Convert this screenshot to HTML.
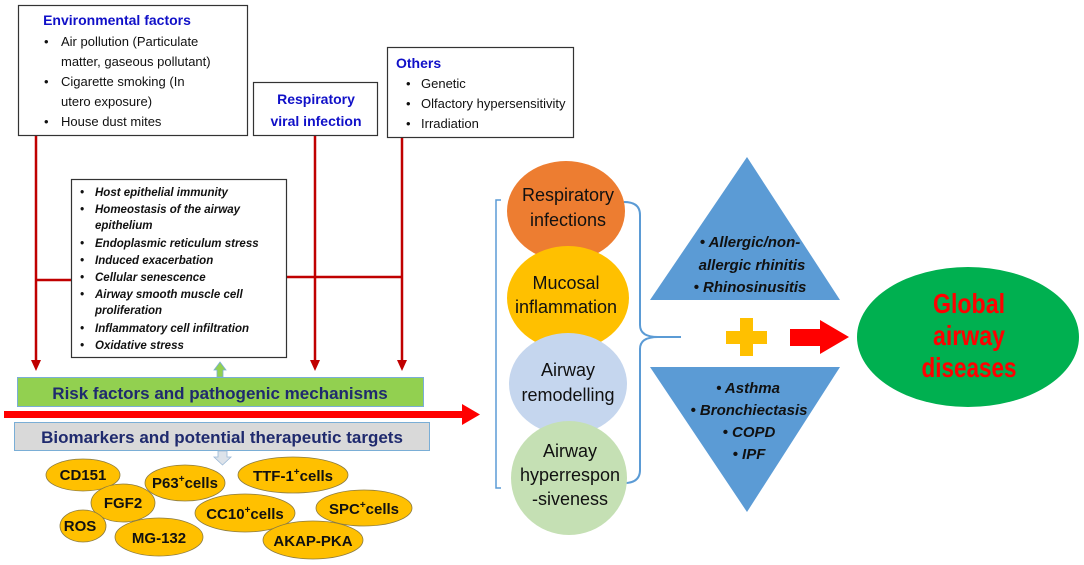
<!DOCTYPE html>
<html><head><meta charset="utf-8"><style>
html,body{margin:0;padding:0;background:#fff;}
svg{display:block;font-family:"Liberation Sans",sans-serif;}
</style></head><body>
<svg width="1084" height="565" viewBox="0 0 1084 565" xmlns="http://www.w3.org/2000/svg">
<!-- top boxes -->
<rect x="18.5" y="5.5" width="229" height="130" fill="#fff" stroke="#333" stroke-width="1.2"/>
<text x="117" y="25" font-size="14" font-weight="bold" fill="#1010c8" text-anchor="middle">Environmental  factors</text>
<g font-size="13" fill="#111">
<text x="44" y="46">•</text><text x="61" y="46">Air pollution (Particulate</text>
<text x="61" y="66">matter, gaseous pollutant)</text>
<text x="44" y="86">•</text><text x="61" y="86">Cigarette smoking (In</text>
<text x="61" y="106">utero exposure)</text>
<text x="44" y="126">•</text><text x="61" y="126">House dust mites</text>
</g>
<rect x="253.5" y="82.5" width="124" height="53" fill="#fff" stroke="#333" stroke-width="1.2"/>
<text x="316" y="104" font-size="14" font-weight="bold" fill="#1010c8" text-anchor="middle">Respiratory</text>
<text x="316" y="126" font-size="14" font-weight="bold" fill="#1010c8" text-anchor="middle">viral infection</text>
<rect x="387.5" y="47.5" width="186" height="90" fill="#fff" stroke="#333" stroke-width="1.2"/>
<text x="396" y="68" font-size="14" font-weight="bold" fill="#1010c8">Others</text>
<g font-size="13" fill="#111">
<text x="406" y="88">•</text><text x="421" y="88">Genetic</text>
<text x="406" y="108">•</text><text x="421" y="108">Olfactory hypersensitivity</text>
<text x="406" y="128">•</text><text x="421" y="128">Irradiation</text>
</g>
<!-- red vertical lines -->
<g stroke="#c00000" stroke-width="2.5" fill="none">
<line x1="36" y1="136" x2="36" y2="362"/>
<line x1="315" y1="136" x2="315" y2="362"/>
<line x1="402" y1="138" x2="402" y2="362"/>
<line x1="36" y1="280" x2="71" y2="280"/>
<line x1="287" y1="277" x2="402" y2="277"/>
</g>
<g fill="#c00000">
<polygon points="31,360 41,360 36,371"/>
<polygon points="310,360 320,360 315,371"/>
<polygon points="397,360 407,360 402,371"/>
</g>
<!-- mechanisms box -->
<rect x="71.5" y="179.5" width="215" height="178" fill="#fff" stroke="#333" stroke-width="1.2"/>
<g font-size="11.5" font-weight="bold" font-style="italic" fill="#111">
<text x="80" y="196">•</text><text x="95" y="196">Host epithelial immunity</text>
<text x="80" y="213">•</text><text x="95" y="213">Homeostasis of the airway</text>
<text x="95" y="229">epithelium</text>
<text x="80" y="247">•</text><text x="95" y="247">Endoplasmic  reticulum stress</text>
<text x="80" y="264">•</text><text x="95" y="264">Induced exacerbation</text>
<text x="80" y="281">•</text><text x="95" y="281">Cellular senescence</text>
<text x="80" y="298">•</text><text x="95" y="298">Airway smooth muscle cell</text>
<text x="95" y="314">proliferation</text>
<text x="80" y="332">•</text><text x="95" y="332">Inflammatory cell infiltration</text>
<text x="80" y="349">•</text><text x="95" y="349">Oxidative stress</text>
</g>
<!-- small green up arrow -->
<polygon points="220,362 226,370 223,370 223,377 217,377 217,370 214,370" fill="#92d050" stroke="#7aaed6" stroke-width="0.8"/>
<!-- green bar -->
<rect x="17.5" y="377.5" width="406" height="29" fill="#92d050" stroke="#7aaed6" stroke-width="1"/>
<text x="220" y="399" font-size="17" font-weight="bold" fill="#1f2a6e" text-anchor="middle">Risk factors and pathogenic mechanisms</text>
<!-- big red arrow -->
<rect x="4" y="411" width="462" height="7" fill="#ff0000"/>
<polygon points="462,404 480,414.5 462,425" fill="#ff0000"/>
<!-- grey bar -->
<rect x="14.5" y="422.5" width="415" height="28" fill="#d9d9d9" stroke="#7aaed6" stroke-width="1"/>
<text x="222" y="443" font-size="17" font-weight="bold" fill="#1f2a6e" text-anchor="middle">Biomarkers and potential therapeutic targets</text>
<polygon points="218,451 227,451 227,457 231,457 222.5,465 214,457 218,457" fill="#dde3ea" stroke="#9ab8d6" stroke-width="0.8"/>
<!-- ovals -->
<g fill="#ffc000" stroke="#8a7a40" stroke-width="0.8">
<ellipse cx="83" cy="475" rx="37" ry="16"/>
<ellipse cx="123" cy="503" rx="32" ry="19"/>
<ellipse cx="83" cy="526" rx="23" ry="16"/>
<ellipse cx="185" cy="483" rx="40" ry="18"/>
<ellipse cx="159" cy="537" rx="44" ry="19"/>
<ellipse cx="293" cy="475" rx="55" ry="18"/>
<ellipse cx="245" cy="513" rx="50" ry="19"/>
<ellipse cx="364" cy="508" rx="48" ry="18"/>
<ellipse cx="313" cy="540" rx="50" ry="19"/>
</g>
<g font-size="15" font-weight="bold" fill="#111" text-anchor="middle">
<text x="83" y="480">CD151</text>
<text x="123" y="508">FGF2</text>
<text x="80" y="531">ROS</text>
<text x="185" y="488">P63<tspan font-size="10" dy="-6">+</tspan><tspan dy="6">cells</tspan></text>
<text x="159" y="543">MG-132</text>
<text x="293" y="481">TTF-1<tspan font-size="10" dy="-6">+</tspan><tspan dy="6">cells</tspan></text>
<text x="245" y="519">CC10<tspan font-size="10" dy="-6">+</tspan><tspan dy="6">cells</tspan></text>
<text x="364" y="514">SPC<tspan font-size="10" dy="-6">+</tspan><tspan dy="6">cells</tspan></text>
<text x="313" y="546">AKAP-PKA</text>
</g>
<!-- brackets -->
<path d="M501,200 L496,200 L496,488 L501,488" fill="none" stroke="#5b9bd5" stroke-width="1.5"/>
<path d="M624,202 Q640,202 640,215 L640,325 Q640,337 658,337 L681,337 M658,337 Q640,337 640,349 L640,470 Q640,483 624,483" fill="none" stroke="#5b9bd5" stroke-width="2"/>
<!-- circles -->
<ellipse cx="566" cy="211" rx="59" ry="50" fill="#ed7d31"/>
<ellipse cx="568" cy="298" rx="61" ry="52" fill="#ffc000"/>
<ellipse cx="568" cy="384" rx="59" ry="51" fill="#c5d6ee"/>
<ellipse cx="569" cy="478" rx="58" ry="57" fill="#c5e0b4"/>
<g font-size="18" fill="#111" text-anchor="middle">
<text x="568" y="201">Respiratory</text>
<text x="568" y="226">infections</text>
<text x="566" y="289">Mucosal</text>
<text x="566" y="313">inflammation</text>
<text x="568" y="376">Airway</text>
<text x="568" y="401">remodelling</text>
<text x="570" y="457">Airway</text>
<text x="570" y="481">hyperrespon</text>
<text x="570" y="505">-siveness</text>
</g>
<!-- triangles -->
<polygon points="747,157 840,300 650,300" fill="#5b9bd5"/>
<polygon points="650,367 840,367 747,512" fill="#5b9bd5"/>
<g font-size="15" font-weight="bold" font-style="italic" fill="#111" text-anchor="middle">
<text x="750" y="247">• Allergic/non-</text>
<text x="752" y="270">allergic  rhinitis</text>
<text x="750" y="292">• Rhinosinusitis</text>
<text x="748" y="393">• Asthma</text>
<text x="749" y="415">• Bronchiectasis</text>
<text x="749" y="437">• COPD</text>
<text x="749" y="459">• IPF</text>
</g>
<!-- plus -->
<rect x="726" y="331" width="41" height="13" fill="#ffc000"/>
<rect x="740" y="318" width="13" height="38" fill="#ffc000"/>
<!-- red arrow -->
<polygon points="790,329 820,329 820,320 849,337 820,354 820,346 790,346" fill="#ff0000"/>
<!-- green ellipse -->
<ellipse cx="968" cy="337" rx="111" ry="70" fill="#00b050"/>
<g font-size="28" font-weight="bold" fill="#ff0000" text-anchor="middle">
<text x="969" y="313" textLength="72" lengthAdjust="spacingAndGlyphs">Global</text>
<text x="969" y="345" textLength="72" lengthAdjust="spacingAndGlyphs">airway</text>
<text x="969" y="377" textLength="95" lengthAdjust="spacingAndGlyphs">diseases</text>
</g>
</svg>
</body></html>
